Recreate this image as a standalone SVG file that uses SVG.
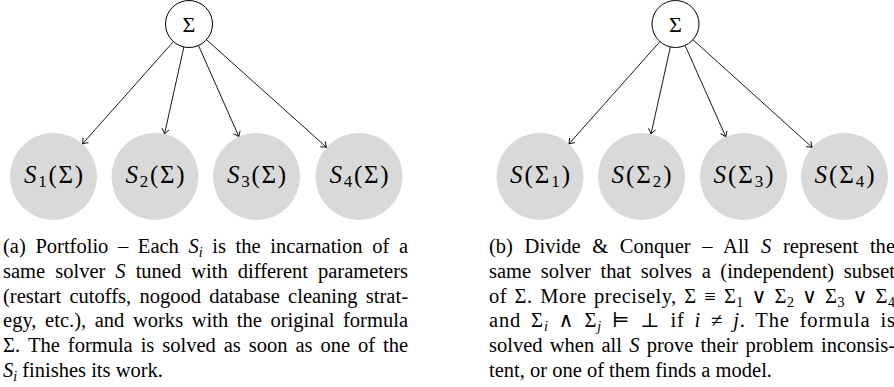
<svg xmlns="http://www.w3.org/2000/svg" width="894" height="387" viewBox="0 0 894 387">
<defs>
<style>
.root{fill:#fff;stroke:#000;stroke-width:1}
.sol{fill:#d9d9d9;stroke:none}
.edge{stroke:#000;stroke-width:0.9;fill:none}
.top{font-size:22px;text-anchor:middle;fill:#000}
.lbl{font-size:25px;text-anchor:middle;fill:#000}
.cap{font-size:20.5px;fill:#000}
.m{font-style:italic}
.s{font-size:14px}
.ls{font-size:17px}
</style>
<marker id="arr" viewBox="-7 -5 8 10" refX="0" refY="0" markerWidth="8" markerHeight="10" markerUnits="userSpaceOnUse" orient="auto">
<path d="M-5,-3.6 Q-1.8,-0.9 0,0 Q-1.8,0.9 -5,3.6" fill="none" stroke="#000" stroke-width="0.9"/>
</marker>
</defs>
<rect width="894" height="387" fill="#fff"/>

<g id="connectors">
<line class="edge" x1="173.4" y1="41.6" x2="82.4" y2="144.0" marker-end="url(#arr)"/>
<line class="edge" x1="183.9" y1="46.9" x2="164.5" y2="134.0" marker-end="url(#arr)"/>
<line class="edge" x1="198.5" y1="45.5" x2="238.9" y2="136.7" marker-end="url(#arr)"/>
<line class="edge" x1="206.5" y1="39.7" x2="326.6" y2="147.4" marker-end="url(#arr)"/>
<line class="edge" x1="659.9" y1="41.6" x2="568.9" y2="144.0" marker-end="url(#arr)"/>
<line class="edge" x1="670.4" y1="46.9" x2="651.0" y2="134.0" marker-end="url(#arr)"/>
<line class="edge" x1="685.1" y1="45.5" x2="725.8" y2="136.8" marker-end="url(#arr)"/>
<line class="edge" x1="692.9" y1="39.7" x2="812.2" y2="147.4" marker-end="url(#arr)"/>
</g>

<g font-family="'Liberation Serif', 'DejaVu Serif', serif">
<g id="a-sigma"><circle class="root" cx="189" cy="24" r="23.5"/><text class="top" x="189" y="31.7">Σ</text></g>
<g id="a-s1"><circle class="sol" cx="53.5" cy="176.5" r="43.5"/><text class="lbl" x="53.5" y="183" textLength="59" lengthAdjust="spacing"><tspan class="m">S</tspan><tspan class="ls" dy="4">1</tspan><tspan dy="-4">(Σ)</tspan></text></g>
<g id="a-s2"><circle class="sol" cx="155" cy="176.5" r="43.5"/><text class="lbl" x="155" y="183" textLength="59" lengthAdjust="spacing"><tspan class="m">S</tspan><tspan class="ls" dy="4">2</tspan><tspan dy="-4">(Σ)</tspan></text></g>
<g id="a-s3"><circle class="sol" cx="256.5" cy="176.5" r="43.5"/><text class="lbl" x="256.5" y="183" textLength="59" lengthAdjust="spacing"><tspan class="m">S</tspan><tspan class="ls" dy="4">3</tspan><tspan dy="-4">(Σ)</tspan></text></g>
<g id="a-s4"><circle class="sol" cx="359" cy="176.5" r="43.5"/><text class="lbl" x="359" y="183" textLength="59" lengthAdjust="spacing"><tspan class="m">S</tspan><tspan class="ls" dy="4">4</tspan><tspan dy="-4">(Σ)</tspan></text></g>

<g id="b-sigma"><circle class="root" cx="675.5" cy="24" r="23.5"/><text class="top" x="675.5" y="31.7">Σ</text></g>
<g id="b-s1"><circle class="sol" cx="540" cy="176.5" r="43.5"/><text class="lbl" x="540" y="183" textLength="60" lengthAdjust="spacing"><tspan class="m">S</tspan>(Σ<tspan class="ls" dy="4">1</tspan><tspan dy="-4">)</tspan></text></g>
<g id="b-s2"><circle class="sol" cx="641.5" cy="176.5" r="43.5"/><text class="lbl" x="641.5" y="183" textLength="60" lengthAdjust="spacing"><tspan class="m">S</tspan>(Σ<tspan class="ls" dy="4">2</tspan><tspan dy="-4">)</tspan></text></g>
<g id="b-s3"><circle class="sol" cx="743.5" cy="176.5" r="43.5"/><text class="lbl" x="743.5" y="183" textLength="60" lengthAdjust="spacing"><tspan class="m">S</tspan>(Σ<tspan class="ls" dy="4">3</tspan><tspan dy="-4">)</tspan></text></g>
<g id="b-s4"><circle class="sol" cx="844.5" cy="176.5" r="43.5"/><text class="lbl" x="844.5" y="183" textLength="60" lengthAdjust="spacing"><tspan class="m">S</tspan>(Σ<tspan class="ls" dy="4">4</tspan><tspan dy="-4">)</tspan></text></g>
</g>

<g id="caption-a" class="cap" font-family="'Liberation Serif', 'DejaVu Serif', serif">
<text x="3" y="253" textLength="405" lengthAdjust="spacing" word-spacing="4.5">(a) Portfolio – Each <tspan class="m">S</tspan><tspan class="m s" dy="4">i</tspan><tspan dy="-4"> is the incarnation of a</tspan></text>
<text x="3" y="277.8" textLength="405" lengthAdjust="spacing" word-spacing="4.9">same solver <tspan class="m">S</tspan> tuned with different parameters</text>
<text x="3" y="302.6" textLength="405" lengthAdjust="spacing" word-spacing="3.1">(restart cutoffs, nogood database cleaning strat-</text>
<text x="3" y="327.4" textLength="405" lengthAdjust="spacing" word-spacing="3.4">egy, etc.), and works with the original formula</text>
<text x="3" y="352.2" textLength="405" lengthAdjust="spacing" word-spacing="2.8">Σ. The formula is solved as soon as one of the</text>
<text x="3" y="377"><tspan class="m">S</tspan><tspan class="m s" dy="4">i</tspan><tspan dy="-4"> finishes its work.</tspan></text>
</g>

<g id="caption-b" class="cap" font-family="'Liberation Serif', 'DejaVu Serif', serif">
<text x="489" y="253" textLength="406" lengthAdjust="spacing" word-spacing="6.5">(b) Divide &amp; Conquer – All <tspan class="m">S</tspan> represent the</text>
<text x="489" y="277.8" textLength="406" lengthAdjust="spacing" word-spacing="4.5">same solver that solves a (independent) subset</text>
<text x="489" y="302.6" textLength="406" lengthAdjust="spacing" word-spacing="2">of Σ. More precisely, Σ ≡ Σ<tspan class="s" dy="4">1</tspan><tspan dy="-4"> ∨ Σ</tspan><tspan class="s" dy="4">2</tspan><tspan dy="-4"> ∨ Σ</tspan><tspan class="s" dy="4">3</tspan><tspan dy="-4"> ∨ Σ</tspan><tspan class="s" dy="4">4</tspan></text>
<text x="489" y="327.4" textLength="406" lengthAdjust="spacing" word-spacing="4">and Σ<tspan class="m s" dy="4">i</tspan><tspan dy="-4"> <tspan font-family="'DejaVu Serif', serif" font-weight="normal">∧</tspan> Σ</tspan><tspan class="m s" dy="4">j</tspan><tspan dy="-4"> ⊨ ⊥ if </tspan><tspan class="m">i</tspan> ≠ <tspan class="m">j</tspan>. The formula is</text>
<text x="489" y="352.2" textLength="406" lengthAdjust="spacing" word-spacing="2.1">solved when all <tspan class="m">S</tspan> prove their problem inconsis-</text>
<text x="489" y="377">tent, or one of them finds a model.</text>
</g>
</svg>
